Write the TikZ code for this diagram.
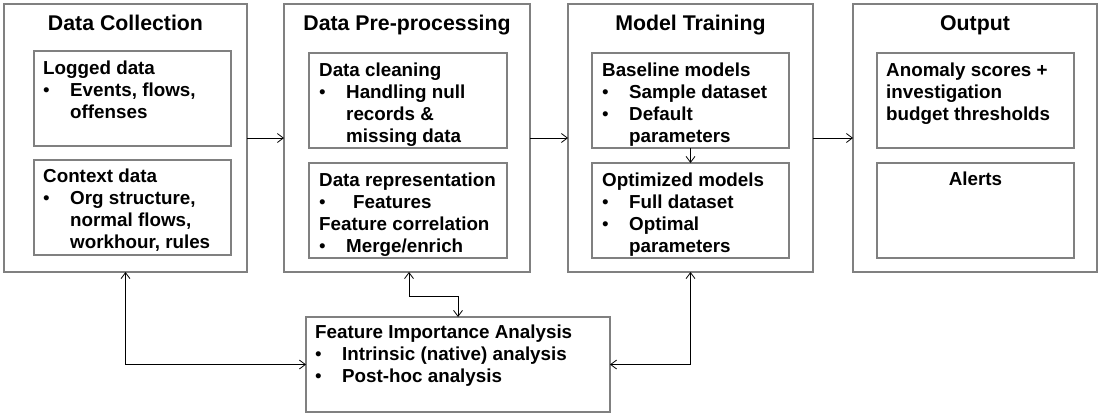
\documentclass[tikz,border=0pt]{standalone}
\usepackage{fontspec}
\setmainfont{Liberation Sans}
\usetikzlibrary{arrows.meta,calc}
\definecolor{boxgray}{HTML}{808080}
\newcommand\bul{\makebox[27pt][l]{\mdseries\textbullet}}
\newcommand\ind{\hspace*{27pt}}
\begin{document}
\begin{tikzpicture}[x=1pt,y=-1pt,
  box/.style={draw=boxgray,line width=2pt,inner sep=0pt,outer sep=0pt},
  title/.style={font=\fontsize{21.3}{25}\selectfont\bfseries,anchor=base,inner sep=0pt},
  txt/.style={font=\fontsize{18.8}{22.3}\selectfont\bfseries,anchor=base west,inner sep=0pt},
  ctxt/.style={font=\fontsize{18.8}{22.3}\selectfont\bfseries,anchor=base,inner sep=0pt},
  >={Straight Barb[length=6pt,width=9pt]},
  conn/.style={line width=0.8pt,black}]
\useasboundingbox (0,0) rectangle (1102,416);
% outer boxes
\node[box,minimum width=243pt,minimum height=268pt] (dc) at (125.5,138) {};
\node[box,minimum width=246pt,minimum height=268pt] (pp) at (407,138) {};
\node[box,minimum width=245pt,minimum height=268pt] (mt) at (690.5,138) {};
\node[box,minimum width=244pt,minimum height=268pt] (out) at (975,138) {};
% titles
\node[title] (tdc) at ($(dc.north)+(0,26)$) {Data Collection};
\node[title] (tpp) at ($(pp.north)+(0,26)$) {Data Pre-processing};
\node[title] (tmt) at ($(mt.north)+(0,26)$) {Model Training};
\node[title] (tout) at ($(out.north)+(0,26)$) {Output};
% inner boxes
\node[box,minimum width=197pt,minimum height=95pt] (log) at (132.5,98.5) {};
\node[box,minimum width=197pt,minimum height=95pt] (ctx) at (132.5,207.5) {};
\node[box,minimum width=198pt,minimum height=95pt] (cln) at (408,100.5) {};
\node[box,minimum width=198pt,minimum height=95pt] (rep) at (408,210.5) {};
\node[box,minimum width=197pt,minimum height=95pt] (base) at (690.5,100.5) {};
\node[box,minimum width=197pt,minimum height=95pt] (opt) at (690.5,210.5) {};
\node[box,minimum width=197pt,minimum height=95pt] (anom) at (975.5,100.5) {};
\node[box,minimum width=197pt,minimum height=95pt] (al) at (975.5,210.5) {};
\node[box,minimum width=304pt,minimum height=95pt] (fia) at (458,364.5) {};
% texts
\node[txt] (tlog) at ($(log.north west)+(9,23)$) {\parbox[t]{190pt}{\raggedright Logged data\\\bul Events, flows,\\\ind offenses}};
\node[txt] (tctx) at ($(ctx.north west)+(9,22)$) {\parbox[t]{200pt}{\raggedright Context data\\\bul Org structure,\\\ind normal flows,\\\ind workhour, rules}};
\node[txt] (tcln) at ($(cln.north west)+(10,23)$) {\parbox[t]{190pt}{\raggedright Data cleaning\\\bul Handling null\\\ind records \&\\\ind missing data}};
\node[txt] (trep) at ($(rep.north west)+(10,23)$) {\parbox[t]{190pt}{\raggedright Data representation\\\bul\hspace*{7pt}Features\\Feature correlation\\\bul Merge/enrich}};
\node[txt] (tbase) at ($(base.north west)+(10,23)$) {\parbox[t]{190pt}{\raggedright Baseline models\\\bul Sample dataset\\\bul Default\\\ind parameters}};
\node[txt] (topt) at ($(opt.north west)+(10,23)$) {\parbox[t]{190pt}{\raggedright Optimized models\\\bul Full dataset\\\bul Optimal\\\ind parameters}};
\node[txt] (tanom) at ($(anom.north west)+(9,23)$) {\parbox[t]{190pt}{\raggedright Anomaly scores +\\investigation\\budget thresholds}};
\node[ctxt] (tal) at ($(al.north)+(0,22)$) {Alerts};
\node[txt] (tfia) at ($(fia.north west)+(9,21)$) {\parbox[t]{295pt}{\raggedright Feature Importance Analysis\\\bul Intrinsic (native) analysis\\\bul Post-hoc analysis}};
% connectors
\draw[conn,->] (dc.east) -- (pp.west);
\draw[conn,->] (pp.east) -- (mt.west);
\draw[conn,->] (mt.east) -- (out.west);
\draw[conn,->] (base.south) -- (opt.north);
\draw[conn,<->] (dc.south) |- (fia.west);
\draw[conn,<->] ($(pp.south)+(2,0)$) -- ++(0,24) -| (fia.north);
\draw[conn,<->] (mt.south) |- (fia.east);
\end{tikzpicture}
\end{document}
